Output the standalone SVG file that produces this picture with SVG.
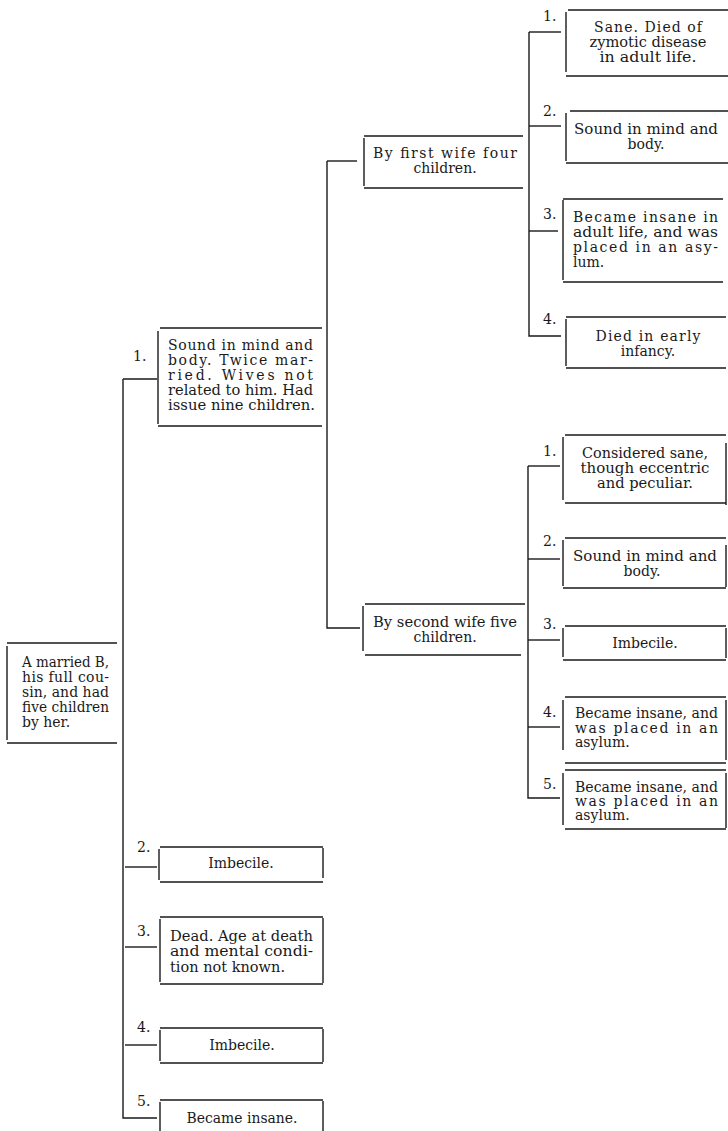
<svg xmlns="http://www.w3.org/2000/svg" width="728" height="1131" viewBox="0 0 728 1131">
<style>
.bg{fill:#ffffff}
.ln{fill:none;stroke:#1a1a1a;stroke-width:1.4}
.t{font-family:"DejaVu Serif","Liberation Serif",serif;font-size:14px;fill:#1a1a1a}
.c{text-anchor:middle}
.n{font-family:"DejaVu Serif","Liberation Serif",serif;font-size:14px;fill:#1a1a1a}
</style>
<rect class="bg" x="0" y="0" width="728" height="1131"/>

<g id="connectors">
  <path class="ln" d="M123,379 V1118 H157"/>
  <path class="ln" d="M123,379 H157"/>
  <path class="ln" d="M125,867 H157"/>
  <path class="ln" d="M125,947 H157"/>
  <path class="ln" d="M125,1045 H157"/>
  <path class="ln" d="M327,161 V628 H360"/>
  <path class="ln" d="M327,161 H357"/>
  <path class="ln" d="M529,32 V336 H561"/>
  <path class="ln" d="M529,32 H561"/>
  <path class="ln" d="M529,126 H561"/>
  <path class="ln" d="M529,231 H558"/>
  <path class="ln" d="M528,466 V798 H560"/>
  <path class="ln" d="M528,466 H560"/>
  <path class="ln" d="M528,559 H560"/>
  <path class="ln" d="M528,640 H560"/>
  <path class="ln" d="M528,727 H560"/>
</g>

<g id="nodeA">
  <path class="ln" d="M7,643 H117 M7,646 V740 M7,743 H117"/>
  <text class="t" x="22" y="667" textLength="87" lengthAdjust="spacingAndGlyphs">A married B,</text>
  <text class="t" x="22" y="682" textLength="87" lengthAdjust="spacing">his full cou-</text>
  <text class="t" x="22" y="697" textLength="87" lengthAdjust="spacing">sin, and had</text>
  <text class="t" x="22" y="712" textLength="87" lengthAdjust="spacingAndGlyphs">five children</text>
  <text class="t" x="22" y="727">by her.</text>
</g>

<g id="child1">
  <text class="n" x="133" y="361">1.</text>
  <path class="ln" d="M160,328 H322 M158,331 V424 M158,426 H322"/>
  <text class="t" x="168" y="350" textLength="145" lengthAdjust="spacing">Sound in mind and</text>
  <text class="t" x="168" y="365" textLength="145" lengthAdjust="spacing">body. Twice mar-</text>
  <text class="t" x="168" y="380" textLength="145" lengthAdjust="spacing">ried. Wives not</text>
  <text class="t" x="168" y="395" textLength="145" lengthAdjust="spacingAndGlyphs">related to him. Had</text>
  <text class="t" x="168" y="410" textLength="147" lengthAdjust="spacingAndGlyphs">issue nine children.</text>
</g>

<g id="firstWife">
  <path class="ln" d="M364,136 H523 M364,138 V186 M364,188 H523"/>
  <text class="t" x="373" y="158" textLength="144" lengthAdjust="spacing">By first wife four</text>
  <text class="t c" x="445" y="173">children.</text>
</g>

<g id="fw1">
  <text class="n" x="543" y="21">1.</text>
  <path class="ln" d="M568,10 H728 M566,12 V72 M566,76 H728"/>
  <text class="t c" x="648" y="32" textLength="108" lengthAdjust="spacing">Sane.   Died of</text>
  <text class="t c" x="648" y="47" textLength="117" lengthAdjust="spacingAndGlyphs">zymotic disease</text>
  <text class="t c" x="648" y="62" textLength="97" lengthAdjust="spacingAndGlyphs">in adult life.</text>
</g>

<g id="fw2">
  <text class="n" x="543" y="116">2.</text>
  <path class="ln" d="M570,111 H728 M566,113 V161 M566,163 H728"/>
  <text class="t" x="574" y="134" textLength="144" lengthAdjust="spacingAndGlyphs">Sound in mind and</text>
  <text class="t c" x="646" y="149">body.</text>
</g>

<g id="fw3">
  <text class="n" x="543" y="219">3.</text>
  <path class="ln" d="M563,199 H723 M563,200 V280 M563,282 H723"/>
  <text class="t" x="573" y="222" textLength="145" lengthAdjust="spacing">Became insane  in</text>
  <text class="t" x="573" y="237" textLength="145" lengthAdjust="spacingAndGlyphs">adult life, and was</text>
  <text class="t" x="573" y="252" textLength="145" lengthAdjust="spacing">placed in an asy-</text>
  <text class="t" x="573" y="267">lum.</text>
</g>

<g id="fw4">
  <text class="n" x="543" y="324">4.</text>
  <path class="ln" d="M566,317 H726 M566,319 V366 M566,368 H726"/>
  <text class="t c" x="648" y="341" textLength="105" lengthAdjust="spacing">Died in early</text>
  <text class="t c" x="648" y="356">infancy.</text>
</g>

<g id="secondWife">
  <path class="ln" d="M365,604 H525 M363,606 V651 M365,655 H521"/>
  <text class="t" x="373" y="627" textLength="144" lengthAdjust="spacingAndGlyphs">By second wife five</text>
  <text class="t c" x="445" y="642">children.</text>
</g>

<g id="sw1">
  <text class="n" x="543" y="456">1.</text>
  <path class="ln" d="M565,435 H726 M563,437 V500 M565,503 H726 M726,443 V505"/>
  <text class="t c" x="645" y="458" textLength="126" lengthAdjust="spacingAndGlyphs">Considered sane,</text>
  <text class="t c" x="645" y="473" textLength="129" lengthAdjust="spacingAndGlyphs">though eccentric</text>
  <text class="t c" x="645" y="488" textLength="96" lengthAdjust="spacingAndGlyphs">and peculiar.</text>
</g>

<g id="sw2">
  <text class="n" x="543" y="546">2.</text>
  <path class="ln" d="M565,538 H726 M563,540 V586 M563,588 H726 M726,545 V587"/>
  <text class="t" x="573" y="561" textLength="144" lengthAdjust="spacingAndGlyphs">Sound in mind and</text>
  <text class="t c" x="642" y="576">body.</text>
</g>

<g id="sw3">
  <text class="n" x="543" y="629">3.</text>
  <path class="ln" d="M565,626 H726 M563,628 V657 M563,660 H726 M726,628 V658"/>
  <text class="t c" x="645" y="648">Imbecile.</text>
</g>

<g id="sw4">
  <text class="n" x="543" y="717">4.</text>
  <path class="ln" d="M565,697 H726 M563,700 V750 M565,763 H726 M726,700 V760"/>
  <text class="t" x="575" y="718" textLength="143" lengthAdjust="spacingAndGlyphs">Became insane, and</text>
  <text class="t" x="575" y="733" textLength="143" lengthAdjust="spacing">was placed in an</text>
  <text class="t" x="575" y="747">asylum.</text>
</g>

<g id="sw5">
  <text class="n" x="543" y="789">5.</text>
  <path class="ln" d="M565,770 H726 M563,773 V825 M565,829 H726 M726,773 V828"/>
  <text class="t" x="575" y="792" textLength="143" lengthAdjust="spacingAndGlyphs">Became insane, and</text>
  <text class="t" x="575" y="806" textLength="143" lengthAdjust="spacing">was placed in an</text>
  <text class="t" x="575" y="820">asylum.</text>
</g>

<g id="child2">
  <text class="n" x="137" y="852">2.</text>
  <path class="ln" d="M160,847 H323 M159,849 V880 M160,882 H323 M323,848 V878"/>
  <text class="t c" x="241" y="868">Imbecile.</text>
</g>

<g id="child3">
  <text class="n" x="137" y="936">3.</text>
  <path class="ln" d="M160,917 H323 M160,919 V982 M160,984 H323 M323,918 V983"/>
  <text class="t" x="170" y="941" textLength="143" lengthAdjust="spacingAndGlyphs">Dead. Age at death</text>
  <text class="t" x="170" y="956" textLength="143" lengthAdjust="spacingAndGlyphs">and mental condi-</text>
  <text class="t" x="170" y="972" textLength="115" lengthAdjust="spacingAndGlyphs">tion not known.</text>
</g>

<g id="child4">
  <text class="n" x="137" y="1032">4.</text>
  <path class="ln" d="M160,1028 H323 M160,1030 V1061 M160,1063 H323 M323,1029 V1062"/>
  <text class="t c" x="242" y="1050">Imbecile.</text>
</g>

<g id="child5">
  <text class="n" x="137" y="1106">5.</text>
  <path class="ln" d="M160,1100 H323 M160,1102 V1131 M323,1101 V1131"/>
  <text class="t c" x="242" y="1123" textLength="111" lengthAdjust="spacingAndGlyphs">Became insane.</text>
</g>
</svg>
